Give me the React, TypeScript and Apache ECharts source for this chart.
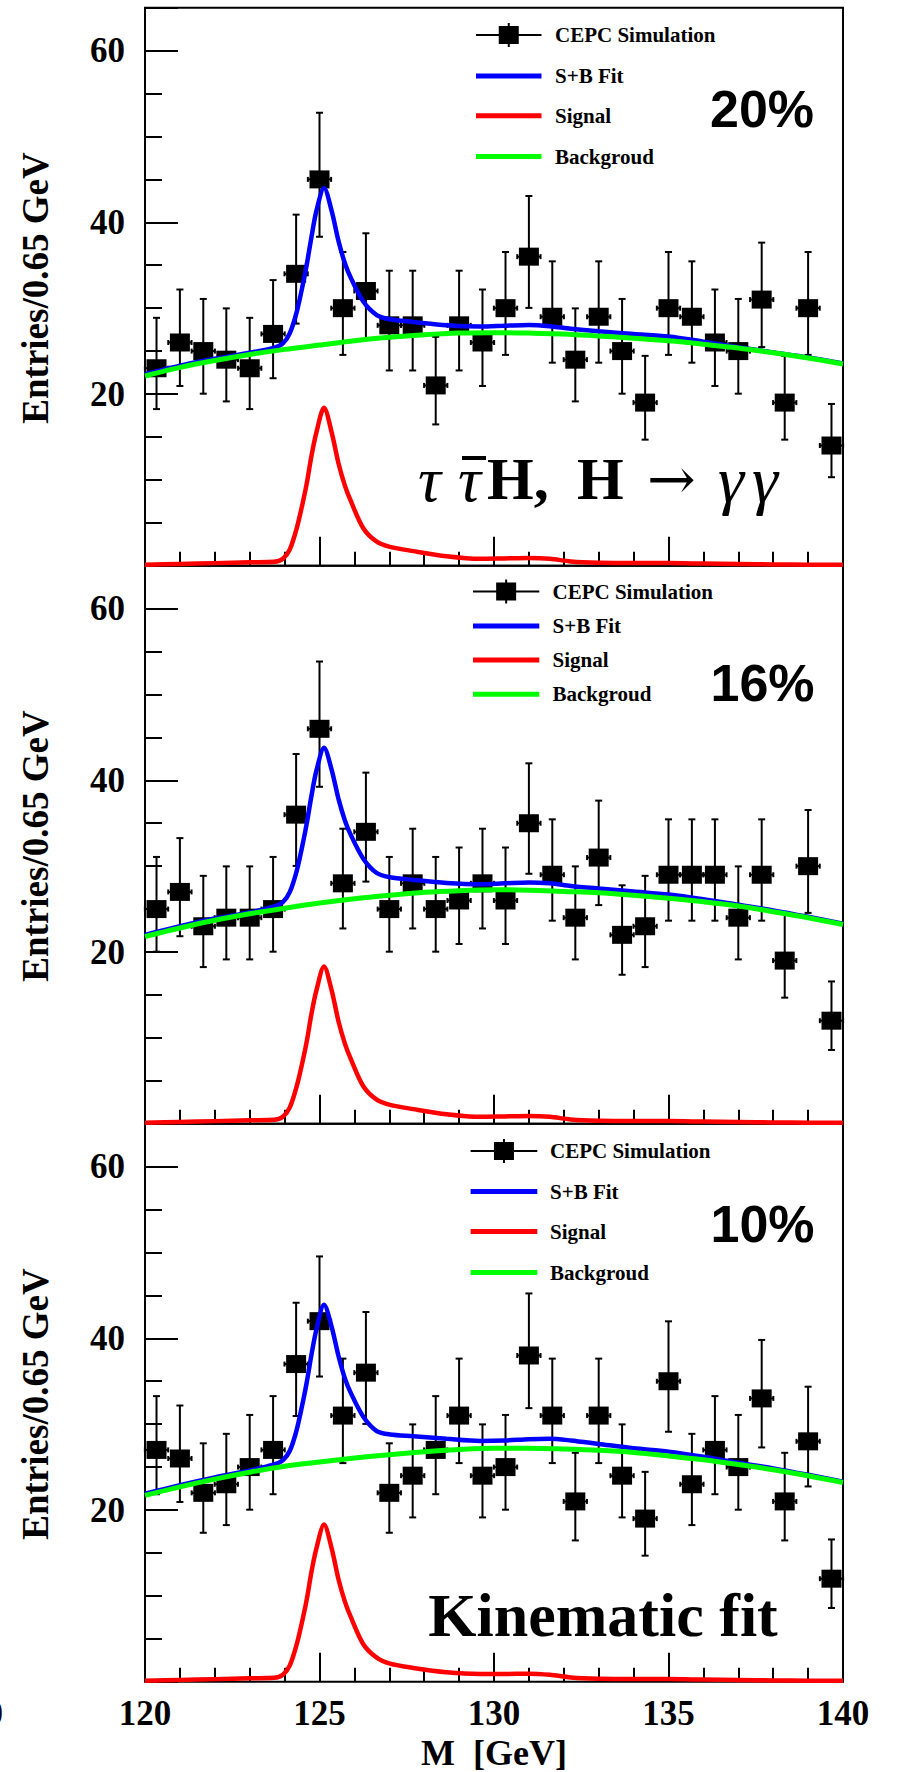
import React, { useEffect, useRef } from "react";
import * as echarts from "echarts";

// ---------------- DATA ----------------
// bin centres of the 30 mass bins (GeV)
const massBins = [
  120.33, 121.0, 121.67, 122.33, 123.0, 123.67, 124.33, 125.0, 125.67, 126.33,
  127.0, 127.67, 128.33, 129.0, 129.67, 130.33, 131.0, 131.67, 132.33, 133.0,
  133.67, 134.33, 135.0, 135.67, 136.33, 137.0, 137.67, 138.33, 139.0, 139.67,
];
const halfBin = 1 / 3;

// CEPC simulation entries per bin
const counts20 = [23, 26, 25, 24, 23, 27, 34, 45, 30, 32, 28, 28, 21, 28, 26, 30, 36, 29, 24, 29, 25, 19, 30, 29, 26, 25, 31, 19, 30, 14];
const counts16 = [25, 27, 23, 24, 24, 25, 36, 46, 28, 34, 25, 28, 25, 26, 28, 26, 35, 29, 24, 31, 22, 23, 29, 29, 29, 24, 29, 19, 30, 12];
const counts10 = [27, 26, 22, 23, 25, 27, 37, 42, 31, 36, 22, 24, 27, 31, 24, 25, 38, 31, 21, 31, 24, 19, 35, 23, 27, 25, 33, 21, 28, 12];

// background fit samples
const bgX = [120, 121, 122, 123, 124, 125, 126, 127, 128, 129, 130, 131, 132, 133, 134, 135, 136, 137, 138, 139, 140];
const bg20 = [22.1, 23.1, 23.9, 24.6, 25.2, 25.7, 26.2, 26.6, 26.9, 27.1, 27.15, 27.1, 27.0, 26.75, 26.5, 26.2, 25.8, 25.35, 24.8, 24.2, 23.5];
const bg16 = [21.8, 22.8, 23.7, 24.45, 25.1, 25.7, 26.2, 26.6, 26.95, 27.15, 27.25, 27.2, 27.05, 26.9, 26.6, 26.25, 25.85, 25.35, 24.7, 24.0, 23.2];
const bg10 = [21.7, 22.7, 23.6, 24.4, 25.1, 25.6, 26.05, 26.45, 26.8, 27.05, 27.2, 27.2, 27.1, 26.95, 26.7, 26.3, 25.85, 25.3, 24.7, 24.0, 23.2];

// signal and S+B fit samples
const fitX = [120, 121, 122, 123, 123.7, 123.95, 124.15, 124.35, 124.54, 124.64, 124.77, 124.91, 125.13, 125.35, 125.54, 125.73, 125.89, 126.25, 126.64, 127.02, 127.69, 128.64, 129.6, 130.3, 131.0, 131.6, 132.2, 133.0, 134.0, 135.0, 136.0, 137.0, 138.0, 139.0, 140.0];
const sig20 = [0.1, 0.2, 0.3, 0.4, 0.45, 0.8, 1.9, 4.4, 7.7, 9.7, 12.8, 15.5, 18.4, 15.5, 12.0, 9.3, 7.6, 4.4, 2.8, 2.2, 1.7, 1.1, 0.8, 0.85, 0.9, 0.8, 0.5, 0.35, 0.3, 0.3, 0.25, 0.2, 0.15, 0.12, 0.1];
const sig16 = [0.1, 0.2, 0.3, 0.4, 0.45, 0.8, 1.9, 4.4, 7.7, 9.7, 12.8, 15.5, 18.3, 15.5, 12.0, 9.3, 7.6, 4.4, 2.8, 2.2, 1.7, 1.1, 0.8, 0.85, 0.9, 0.8, 0.5, 0.35, 0.3, 0.3, 0.25, 0.2, 0.15, 0.12, 0.1];
const sig10 = [0.1, 0.2, 0.3, 0.4, 0.45, 0.8, 1.9, 4.4, 7.7, 9.7, 12.8, 15.5, 18.3, 15.5, 12.0, 9.3, 7.6, 4.4, 2.8, 2.1, 1.6, 1.1, 0.9, 0.9, 0.93, 0.8, 0.5, 0.35, 0.3, 0.3, 0.25, 0.2, 0.15, 0.12, 0.1];
const sb20 = [22.3, 23.3, 24.1, 24.8, 25.4, 25.9, 27.1, 29.6, 33.1, 35.2, 38.3, 41.3, 44.0, 41.3, 37.9, 35.2, 33.6, 30.8, 29.2, 28.7, 28.4, 28.0, 27.85, 27.95, 28.05, 27.9, 27.6, 27.3, 27.0, 26.7, 26.1, 25.45, 24.85, 24.25, 23.55];
const sb16 = [22.0, 23.0, 23.9, 24.6, 25.3, 25.8, 27.0, 29.5, 33.0, 35.1, 38.2, 41.1, 43.8, 41.2, 37.9, 35.3, 33.7, 30.9, 29.2, 28.7, 28.4, 28.05, 27.9, 28.0, 28.1, 28.0, 27.7, 27.4, 27.05, 26.7, 26.15, 25.5, 24.85, 24.1, 23.3];
const sb10 = [21.9, 22.9, 23.8, 24.6, 25.3, 25.8, 26.9, 29.4, 32.9, 35.0, 38.1, 41.0, 43.9, 41.3, 38.0, 35.3, 33.7, 30.9, 29.2, 28.8, 28.6, 28.3, 28.05, 28.1, 28.25, 28.3, 28.1, 27.7, 27.2, 26.8, 26.2, 25.5, 24.85, 24.1, 23.3];

const yTickLabels = [20, 40, 60];
const legendNames = ["CEPC Simulation", "S+B Fit", "Signal", "Backgroud"];
const panelLabels = ["20%", "16%", "10%"];

// ---------------- LAYOUT ----------------
const GRID_LEFT = 145;
const GRID_W = 698;
const GRID_H = 558;
const GRID_TOP0 = 7.7;

const layouts = [
  { rows: [35, 76, 115.7, 156.5], lx1: 476, lx2: 541.5, tx: 555, px: 762, py: 109 },
  { rows: [591.5, 626, 660, 694.3], lx1: 473, lx2: 539.3, tx: 552.5, px: 762.5, py: 682.5 },
  { rows: [1151, 1191.5, 1231.5, 1272.5], lx1: 470.6, lx2: 537.3, tx: 550, px: 762.5, py: 1224 },
];

const SERIF = '"Liberation Serif", "Times New Roman", serif';
const SANS = '"Liberation Sans", Arial, sans-serif';
const BLUE = "#0000ff";
const RED = "#ff0000";
const GREEN = "#00ff00";

// Poisson (Gehrels, 1-sigma) error bars from the counts
function poissonLow(n: number) {
  if (n <= 0) return 0;
  const t = 1 - 1 / (9 * n) - 1 / (3 * Math.sqrt(n));
  return n * t * t * t;
}
function poissonHigh(n: number) {
  return n + Math.sqrt(n + 0.75) + 1;
}

function pairs(xs: number[], ys: number[]) {
  return xs.map((x, i) => [x, ys[i]]);
}

function centeredText(x: number, y: number, text: string, font: string, align = "center", rotation = 0) {
  return {
    type: "text",
    z: 100,
    x,
    y,
    rotation,
    style: {
      text,
      fill: "#000",
      font,
      align,
      verticalAlign: "middle",
      textAlign: align,
      textVerticalAlign: "middle",
    },
  };
}

function buildOption() {
  const panels = [
    { counts: counts20, bg: bg20, sb: sb20, sig: sig20 },
    { counts: counts16, bg: bg16, sb: sb16, sig: sig16 },
    { counts: counts10, bg: bg10, sb: sb10, sig: sig10 },
  ];

  const grid: any[] = [];
  const xAxis: any[] = [];
  const yAxis: any[] = [];
  const series: any[] = [];
  const graphic: any[] = [];

  panels.forEach((p, k) => {
    const top = GRID_TOP0 + GRID_H * k;
    grid.push({
      left: GRID_LEFT,
      top,
      width: GRID_W,
      height: GRID_H,
      show: true,
      borderColor: "#000",
      borderWidth: 2,
      backgroundColor: "transparent",
      containLabel: false,
    });
    const isBottom = k === 2;
    xAxis.push({
      type: "value",
      gridIndex: k,
      position: "bottom",
      min: 120,
      max: 140,
      interval: 5,
      axisLine: { show: false },
      splitLine: { show: false },
      axisTick: { show: true, inside: true, length: 29, lineStyle: { color: "#000", width: 2 } },
      axisLabel: {
        show: isBottom,
        margin: 14,
        color: "#000",
        fontFamily: SERIF,
        fontWeight: "bold",
        fontSize: 35,
      },
    });
    xAxis.push({
      type: "value",
      gridIndex: k,
      position: "bottom",
      offset: 0,
      min: 120,
      max: 140,
      interval: 1,
      axisLine: { show: false },
      splitLine: { show: false },
      axisTick: { show: true, inside: true, length: 14, lineStyle: { color: "#000", width: 2 } },
      axisLabel: { show: false },
    });
    yAxis.push({
      type: "value",
      gridIndex: k,
      position: "left",
      min: 0,
      max: 65,
      interval: 20,
      axisLine: { show: false },
      splitLine: { show: false },
      axisTick: { show: true, inside: true, length: 33, lineStyle: { color: "#000", width: 2 } },
      axisLabel: {
        show: true,
        margin: 20,
        color: "#000",
        fontFamily: SERIF,
        fontWeight: "bold",
        fontSize: 35,
        formatter: (v: number) => (yTickLabels.indexOf(v) >= 0 ? String(v) : ""),
      },
    });
    yAxis.push({
      type: "value",
      gridIndex: k,
      position: "left",
      offset: 0,
      min: 0,
      max: 65,
      interval: 5,
      axisLine: { show: false },
      splitLine: { show: false },
      axisTick: { show: true, inside: true, length: 17, lineStyle: { color: "#000", width: 2 } },
      axisLabel: { show: false },
    });

    const xi = 2 * k;
    const yi = 2 * k;

    series.push({
      type: "custom",
      name: legendNames[0] + " errors",
      xAxisIndex: xi,
      yAxisIndex: yi,
      z: 2,
      silent: true,
      data: massBins.map((x, i) => [x, p.counts[i], poissonLow(p.counts[i]), poissonHigh(p.counts[i])]),
      renderItem: (_params: any, api: any) => {
        const x = api.value(0);
        const y = api.value(1);
        const lo = api.value(2);
        const hi = api.value(3);
        const c = api.coord([x, y]);
        const t = api.coord([x, hi]);
        const b = api.coord([x, lo]);
        const l = api.coord([x - halfBin, y]);
        const r = api.coord([x + halfBin, y]);
        const st = { stroke: "#000", lineWidth: 2 };
        const cap = 3.5;
        const hcap = 2.5;
        return {
          type: "group",
          children: [
            { type: "line", shape: { x1: c[0], y1: t[1], x2: c[0], y2: b[1] }, style: st },
            { type: "line", shape: { x1: c[0] - cap, y1: t[1], x2: c[0] + cap, y2: t[1] }, style: st },
            { type: "line", shape: { x1: c[0] - cap, y1: b[1], x2: c[0] + cap, y2: b[1] }, style: st },
            { type: "line", shape: { x1: l[0], y1: c[1], x2: r[0], y2: c[1] }, style: st },
            { type: "line", shape: { x1: l[0], y1: c[1] - hcap, x2: l[0], y2: c[1] + hcap }, style: st },
            { type: "line", shape: { x1: r[0], y1: c[1] - hcap, x2: r[0], y2: c[1] + hcap }, style: st },
          ],
        };
      },
    });
    series.push({
      type: "scatter",
      name: legendNames[0],
      xAxisIndex: xi,
      yAxisIndex: yi,
      z: 3,
      silent: true,
      symbol: "rect",
      symbolSize: [20, 18],
      itemStyle: { color: "#000", opacity: 1 },
      data: pairs(massBins, p.counts),
    });
    series.push({
      type: "line",
      name: legendNames[1],
      xAxisIndex: xi,
      yAxisIndex: yi,
      z: 4,
      silent: true,
      showSymbol: false,
      symbol: "none",
      smooth: 0.3,
      lineStyle: { color: BLUE, width: 4.5, opacity: 1 },
      data: pairs(fitX, p.sb),
    });
    series.push({
      type: "line",
      name: legendNames[2],
      xAxisIndex: xi,
      yAxisIndex: yi,
      z: 4,
      silent: true,
      showSymbol: false,
      symbol: "none",
      smooth: 0.3,
      lineStyle: { color: RED, width: 4.5, opacity: 1 },
      data: pairs(fitX, p.sig),
    });
    series.push({
      type: "line",
      name: legendNames[3],
      xAxisIndex: xi,
      yAxisIndex: yi,
      z: 5,
      silent: true,
      showSymbol: false,
      symbol: "none",
      smooth: 0.3,
      lineStyle: { color: GREEN, width: 5, opacity: 1 },
      data: pairs(bgX, p.bg),
    });

    // legend
    const L = layouts[k];
    const mid = (L.lx1 + L.lx2) / 2;
    graphic.push({
      type: "line",
      z: 100,
      shape: { x1: L.lx1, y1: L.rows[0], x2: L.lx2, y2: L.rows[0] },
      style: { stroke: "#000", lineWidth: 2 },
    });
    graphic.push({
      type: "line",
      z: 100,
      shape: { x1: mid, y1: L.rows[0] - 12, x2: mid, y2: L.rows[0] + 12 },
      style: { stroke: "#000", lineWidth: 2 },
    });
    graphic.push({
      type: "rect",
      z: 101,
      shape: { x: mid - 10, y: L.rows[0] - 9, width: 20, height: 18 },
      style: { fill: "#000" },
    });
    const lineColors = [BLUE, RED, GREEN];
    lineColors.forEach((col, j) => {
      graphic.push({
        type: "line",
        z: 100,
        shape: { x1: L.lx1, y1: L.rows[j + 1], x2: L.lx2, y2: L.rows[j + 1] },
        style: { stroke: col, lineWidth: 5 },
      });
    });
    legendNames.forEach((name, j) => {
      graphic.push(centeredText(L.tx, L.rows[j], name, `bold 21px ${SERIF}`, "left"));
    });
    graphic.push(centeredText(L.px, L.py, panelLabels[k], `bold 52px ${SANS}`));
    // y-axis title
    graphic.push(centeredText(35, 288 + GRID_H * k, "Entries/0.65 GeV", `bold 37px ${SERIF}`, "center", Math.PI / 2));
  });

  // process label (panel 1)
  graphic.push({
    type: "text",
    z: 100,
    x: 418,
    y: 479,
    style: {
      text: "{t1|τ}{t2|τ}{h1|H,}{h2|H}{a|\u2192}{g1|γ}{g2|γ}",
      fill: "#000",
      align: "left",
      verticalAlign: "middle",
      textAlign: "left",
      textVerticalAlign: "middle",
      rich: {
        t1: { fontFamily: SERIF, fontStyle: "italic", fontSize: 64, width: 40, align: "left", fill: "#000" },
        t2: { fontFamily: SERIF, fontStyle: "italic", fontSize: 64, width: 29, align: "left", fill: "#000" },
        h1: { fontFamily: SERIF, fontWeight: "bold", fontSize: 60, width: 90, align: "left", fill: "#000" },
        h2: { fontFamily: SERIF, fontWeight: "bold", fontSize: 60, width: 70, align: "left", fill: "#000" },
        a: { fontFamily: '"DejaVu Serif", serif', fontSize: 58, width: 71, align: "left", fill: "#000" },
        g1: { fontFamily: SERIF, fontStyle: "italic", fontSize: 66, width: 34, align: "left", fill: "#000" },
        g2: { fontFamily: SERIF, fontStyle: "italic", fontSize: 66, align: "left", fill: "#000" },
      },
    },
  });
  // bar over the second tau
  graphic.push({
    type: "line",
    z: 101,
    shape: { x1: 462, y1: 458, x2: 486, y2: 458 },
    style: { stroke: "#000", lineWidth: 4 },
  });
  // Kinematic fit (panel 3)
  graphic.push(centeredText(603, 1615, "Kinematic fit", `bold 62px ${SERIF}`));
  // x-axis title
  graphic.push(centeredText(494, 1753, "M\u00a0 [GeV]", `bold 36px ${SERIF}`));
  // clipped label at the left edge
  graphic.push(centeredText(3, 1713, "0", `bold 35px ${SERIF}`, "right"));

  return {
    animation: false,
    backgroundColor: "#fff",
    grid,
    xAxis,
    yAxis,
    series,
    graphic,
  };
}

export default function App() {
  const ref = useRef<HTMLDivElement>(null);
  useEffect(() => {
    if (!ref.current) return;
    const chart = echarts.init(ref.current, null, { renderer: "svg", width: 902, height: 1772 });
    chart.setOption(buildOption() as any);
    return () => {
      chart.dispose();
    };
  }, []);
  return (
    <div
      ref={ref}
      style={{ position: "absolute", left: 0, top: 0, width: 902, height: 1772, background: "#fff" }}
    />
  );
}
